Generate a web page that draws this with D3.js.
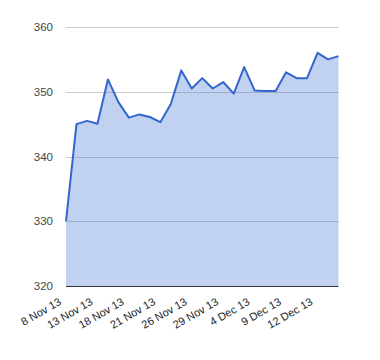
<!DOCTYPE html>
<html><head><meta charset="utf-8">
<script src="https://cdn.jsdelivr.net/npm/d3@7"></script>
<style>body{margin:0;background:#fff}svg{display:block}</style>
</head><body>
<svg id="c" width="380" height="360"></svg>
<script>
const dates = ["8 Nov 13","11 Nov 13","12 Nov 13","13 Nov 13","14 Nov 13","15 Nov 13","18 Nov 13","19 Nov 13","20 Nov 13","21 Nov 13","22 Nov 13","25 Nov 13","26 Nov 13","27 Nov 13","28 Nov 13","29 Nov 13","2 Dec 13","3 Dec 13","4 Dec 13","5 Dec 13","6 Dec 13","9 Dec 13","10 Dec 13","11 Dec 13","12 Dec 13","13 Dec 13","16 Dec 13"];
const values = [330.0,345.0,345.5,345.05,351.9,348.4,346.0,346.5,346.1,345.3,348.1,353.3,350.5,352.1,350.5,351.5,349.7,353.8,350.2,350.1,350.1,353.0,352.1,352.1,356.0,355.0,355.5];
const yTicks = [320,330,340,350,360];
const xLabels = ["8 Nov 13","13 Nov 13","18 Nov 13","21 Nov 13","26 Nov 13","29 Nov 13","4 Dec 13","9 Dec 13","12 Dec 13"];

(function () {
const svg = d3.select("#c");
const mLeft = 66, mRight = 338.5, mTop = 27, mBottom = 286;
const x = d3.scalePoint().domain(dates).range([mLeft, mRight]);
const y = d3.scaleLinear().domain([320, 360]).range([mBottom, mTop]);
const font = "Arial, 'Liberation Sans', sans-serif";

svg.append("g").selectAll("line").data(yTicks.filter(t => t !== 320)).join("line")
  .attr("x1", mLeft).attr("x2", mRight)
  .attr("y1", d => Math.round(y(d)) + 0.5).attr("y2", d => Math.round(y(d)) + 0.5)
  .attr("stroke", "#cccccc").attr("stroke-width", 1);

const data = dates.map((d, i) => ({d, v: values[i]}));
svg.append("path").datum(data)
  .attr("d", d3.area().x(p => x(p.d)).y0(y(320)).y1(p => y(p.v)))
  .attr("fill", "#3366cc").attr("fill-opacity", 0.3);
svg.append("path").datum(data)
  .attr("d", d3.line().x(p => x(p.d)).y(p => y(p.v)))
  .attr("fill", "none").attr("stroke", "#3366cc").attr("stroke-width", 2).attr("stroke-linejoin", "round");

svg.append("line").attr("x1", mLeft).attr("x2", mRight)
  .attr("y1", Math.round(y(320)) + 0.5).attr("y2", Math.round(y(320)) + 0.5)
  .attr("stroke", "#333333").attr("stroke-width", 1);

svg.append("g").selectAll("text").data(yTicks).join("text")
  .attr("x", 53).attr("y", d => y(d) + 4)
  .attr("text-anchor", "end").attr("font-family", font).attr("font-size", 11.5)
  .attr("fill", "#444444").text(d => d);

svg.append("g").selectAll("text").data(xLabels).join("text")
  .attr("transform", d => `translate(${x(d) - 4},${mBottom + 18}) rotate(-30)`)
  .attr("text-anchor", "end").attr("font-family", font).attr("font-size", 11)
  .attr("fill", "#222222").text(d => d);
})();
</script>
</body></html>
